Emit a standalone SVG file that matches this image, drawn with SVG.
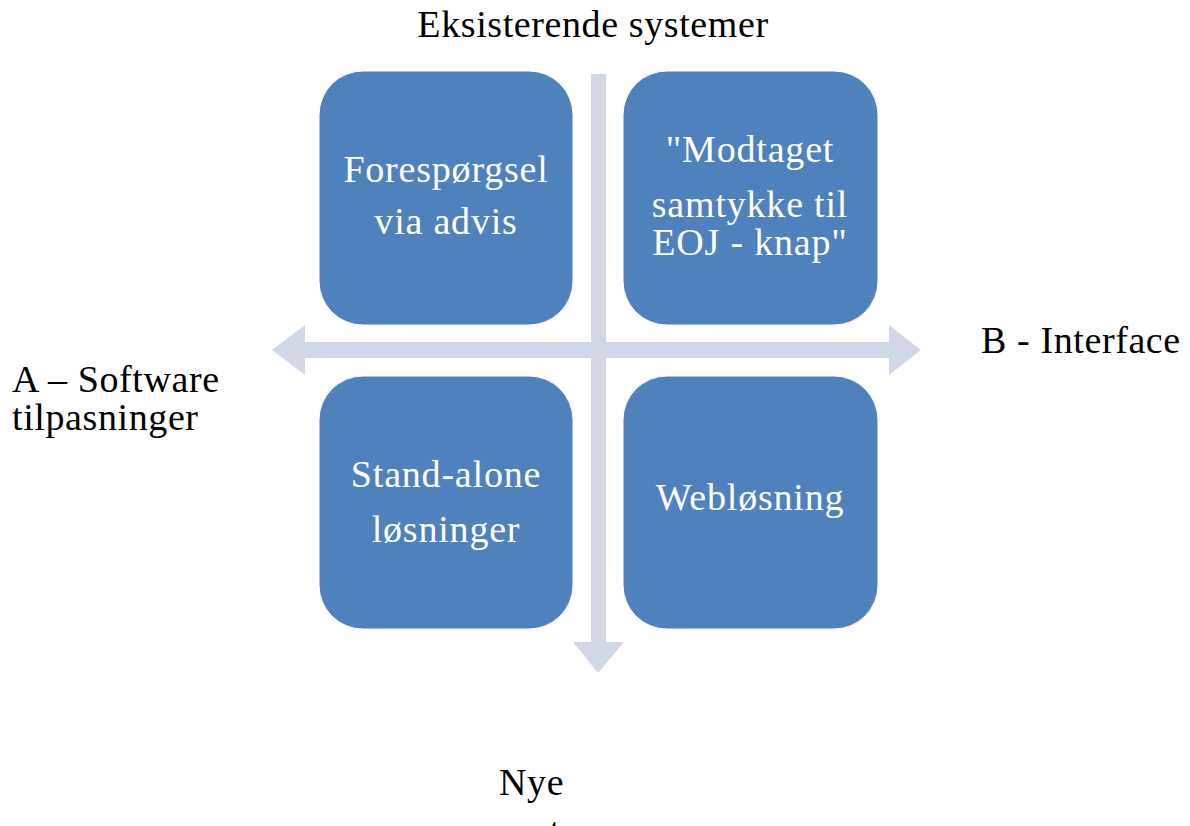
<svg xmlns="http://www.w3.org/2000/svg" width="1190" height="826" viewBox="0 0 1190 826">
<style>
.box{fill:#4F81BD;stroke:#FFFFFF;stroke-width:1}
.arr{fill:#D0D8E8}
.t{font-family:"Liberation Serif","DejaVu Serif",serif;font-size:38px;letter-spacing:0.6px;fill:#000000}
.w{font-family:"Liberation Serif","DejaVu Serif",serif;font-size:38px;letter-spacing:0.8px;fill:#FFFFFF;text-anchor:middle}
</style>
<rect width="1190" height="826" fill="#FFFFFF"/>
<g id="connectors">
<polygon class="arr" points="272,350 305,325 305,342 591,342 591,74 606,74 606,342 889,342 889,325 921,350 889,375 889,358 606,358 606,642 624,642 598,673 573,642 591,642 591,358 305,358 305,375"/>
</g>
<g id="node-forespoergsel">
<rect class="box" x="319" y="71" width="254" height="254" rx="44"/>
<text class="w" x="446" y="182">Forespørgsel</text>
<text class="w" x="446" y="234">via advis</text>
</g>
<g id="node-modtaget">
<rect class="box" x="623" y="71" width="255" height="254" rx="44"/>
<text class="w" x="750" y="162">"Modtaget</text>
<text class="w" x="750" y="217">samtykke til</text>
<text class="w" x="750" y="255">EOJ - knap"</text>
</g>
<g id="node-standalone">
<rect class="box" x="319" y="376" width="254" height="253" rx="44"/>
<text class="w" x="446" y="487">Stand-alone</text>
<text class="w" x="446" y="542">løsninger</text>
</g>
<g id="node-webloesning">
<rect class="box" x="623" y="376" width="255" height="253" rx="44"/>
<text class="w" x="750" y="510">Webløsning</text>
</g>
<g id="labels">
<text class="t" x="593" y="37" text-anchor="middle">Eksisterende systemer</text>
<text class="t" x="981" y="353">B - Interface</text>
<text class="t" x="12" y="392">A – Software</text>
<text class="t" x="12" y="430">tilpasninger</text>
<text class="t" x="499" y="795">Nye</text>
<text class="t" x="499" y="844">systemer</text>
</g>
</svg>
